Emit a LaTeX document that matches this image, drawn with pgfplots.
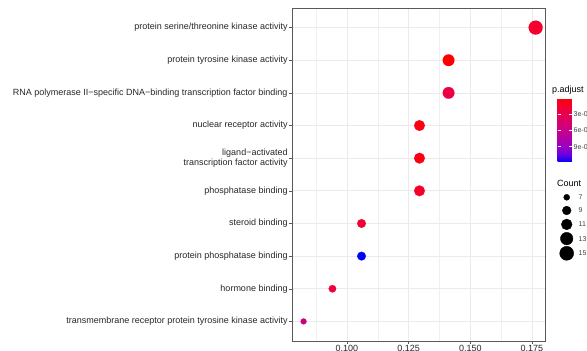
\documentclass[border=0pt]{standalone}
\usepackage{pgfplots}
\pgfplotsset{compat=1.18}
\usepackage{pgfplotstable}
\usepackage{fontspec}
\setmainfont{Liberation Sans}

% x = GeneRatio, y = row (bottom to top), count, p.adjust
\pgfplotstableread{
x y count padj
0.0824 1 7 5.8e-4
0.0941 2 8 2.2e-4
0.1059 3 9 1.18e-3
0.1059 4 9 1.6e-4
0.1294 5 11 1.3e-4
0.1294 6 11 0.6e-4
0.1294 7 11 0.6e-4
0.1412 8 12 2.7e-4
0.1412 9 12 0.1e-4
0.1765 10 15 1.5e-4
}\godata

% size legend: key position, label position (picture pixels), count
\pgfplotstableread{
x y lx count
566.7 197.3 578.5 7
566.7 210.5 578.5 9
566.7 224.4 578.5 11
566.7 238.6 578.5 13
566.7 253.3 578.5 15
}\sizelegend

\begin{document}
\begin{tikzpicture}
\begin{axis}[
  at={(0pt,0pt)}, anchor=south west,
  scale only axis, width=253pt, height=333pt,
  xmin=0.0777, xmax=0.1803, ymin=0.4, ymax=10.6,
  xtick={0.1,0.125,0.15,0.175},
  xticklabels={0.100,0.125,0.150,0.175},
  minor xtick={0.0875,0.1125,0.1375,0.1625},
  ytick={1,...,10},
  yticklabels={
    transmembrane receptor protein tyrosine kinase activity,
    hormone binding,
    protein phosphatase binding,
    steroid binding,
    phosphatase binding,
    {ligand−activated\\transcription factor activity},
    nuclear receptor activity,
    RNA polymerase II−specific DNA−binding transcription factor binding,
    protein tyrosine kinase activity,
    protein serine/threonine kinase activity},
  xtick pos=bottom, ytick pos=left,
  grid=both,
  major grid style={color=black!8, line width=0.7pt},
  minor grid style={color=black!6, line width=0.4pt},
  tick align=outside, major tick length=2.75pt, minor tick length=0pt,
  tick style={black!65, line width=0.5pt},
  axis line style={black!65, line width=0.6pt},
  ticklabel style={font=\fontsize{9}{10}\selectfont, text=black!85},
  yticklabel style={align=right, inner sep=1.5pt},
  xticklabel style={inner sep=1.5pt},
  colormap={bluered}{rgb255(0cm)=(0,0,255); rgb255(1cm)=(112,0,222); rgb255(2cm)=(154,0,195); rgb255(4cm)=(202,0,137); rgb255(6cm)=(232,0,79); rgb255(7cm)=(244,0,49); rgb255(8cm)=(255,0,0)},
  point meta min=-1.18e-3, point meta max=-0.1e-4,
  colorbar,
  colorbar style={
    at={(257pt,243pt)}, anchor=north west,
    scale only axis, width=14.5pt, height=64pt,
    axis line style={draw=none},
    scaled y ticks=false,
    ytick={-3e-4,-6e-4,-9e-4},
    yticklabels={3e-04,6e-04,9e-04},
    tick align=inside, major tick length=3pt,
    ytick pos=both, yticklabel pos=right,
    ytick style={white, line width=0.6pt},
    yticklabel style={font=\fontsize{7}{8}\selectfont, text=black!75, inner sep=1.5pt},
  },
]
\addplot[scatter, only marks, mark=*,
  point meta={-\thisrow{padj}},
  visualization depends on={\thisrow{count}\as\cnt},
  scatter/use mapped color={draw=mapped color, fill=mapped color},
  scatter/@pre marker code/.append style={/tikz/mark size={sqrt(5*\cnt-26)}},
  mark options={line width=0.1pt}] table[x=x, y=y] {\godata};
\end{axis}

\begin{axis}[
  at={(-292pt,-10pt)}, anchor=south west,
  scale only axis, width=587pt, height=351pt,
  xmin=0, xmax=587, ymin=0, ymax=351, y dir=reverse,
  hide axis, clip=false,
  /pgf/number format/assume math mode=true]
\addplot[scatter, only marks, mark=*,
  point meta=\thisrow{count},
  visualization depends on={\thisrow{count}\as\cnt},
  scatter/use mapped color={draw=black, fill=black},
  scatter/@pre marker code/.append style={/tikz/mark size={sqrt(5*\cnt-26)}}] table[x=x, y=y] {\sizelegend};
\addplot[only marks, mark=none, point meta=\thisrow{count},
  nodes near coords={\pgfmathprintnumber[assume math mode=true]{\pgfplotspointmeta}},
  nodes near coords align={horizontal},
  every node near coord/.append style={anchor=west, inner sep=0pt, xshift=0pt, font=\fontsize{7}{8}\selectfont, text=black!75}] table[x=lx, y=y] {\sizelegend};
\node[anchor=west, inner sep=0pt, font=\fontsize{9}{10}\selectfont] at (axis cs:552,90) {p.adjust};
\node[anchor=west, inner sep=0pt, font=\fontsize{9}{10}\selectfont] at (axis cs:557,183) {Count};
\end{axis}

\pgfresetboundingbox
\useasboundingbox (-292pt,-10pt) rectangle (295pt,341pt);
\end{tikzpicture}
\end{document}
